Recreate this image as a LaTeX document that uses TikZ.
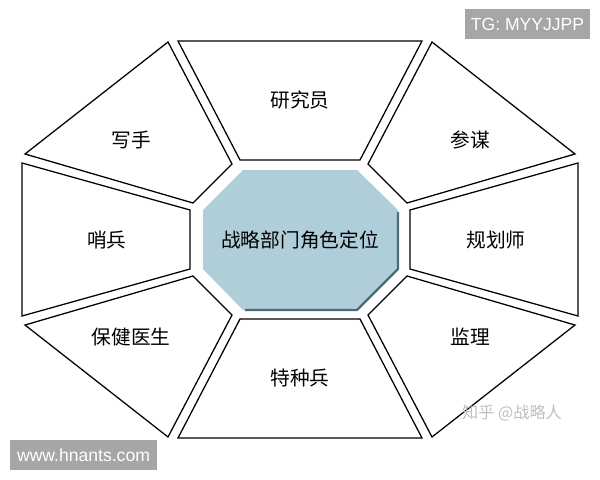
\documentclass[tikz,border=0pt]{standalone}
\usepackage{fontspec}
\setmainfont{Liberation Sans}
\newfontfamily\cjk{Noto Sans CJK SC}
\definecolor{corefill}{RGB}{176,206,218}
\definecolor{coreshade}{RGB}{74,108,120}
\definecolor{markgray}{RGB}{166,166,166}
\tikzset{
	piece/.style={draw=black, line width=0.9pt, fill=white, line join=miter},
	rolelabel/.style={font=\cjk\fontsize{14}{16}\selectfont, text=black},
	markbox/.style={fill=markgray, text=white, inner sep=0pt, font=\fontsize{12.5}{14}\selectfont}
}
\begin{document}
\begin{tikzpicture}[x=0.025cm, y=-0.025cm]
	% page frame
	\useasboundingbox (0,0) rectangle (600,480);
	\fill[white] (0,0) rectangle (600,480);

	% outer pieces, top first, then clockwise
	\draw[piece] (178,41) -- (422,41) -- (360,160) -- (240,160) -- cycle;
	\draw[piece] (432,42) -- (575,154) -- (407,203) -- (368,164) -- cycle;
	\draw[piece] (578,163) -- (410,210) -- (410,269) -- (578,316) -- cycle;
	\draw[piece] (575,325) -- (407,276) -- (368,315) -- (432,437) -- cycle;
	\draw[piece] (240,319) -- (360,319) -- (422,438) -- (178,438) -- cycle;
	\draw[piece] (25,325) -- (193,276) -- (232,315) -- (168,437) -- cycle;
	\draw[piece] (22,163) -- (190,210) -- (190,269) -- (22,316) -- cycle;
	\draw[piece] (168,42) -- (25,154) -- (193,203) -- (232,164) -- cycle;

	% centre octagon with its shadow
	\fill[corefill] (243,170) -- (357,170) -- (398,210) -- (398,269)
			 -- (357,310) -- (243,310) -- (203,269) -- (203,210) -- cycle;
	\draw[coreshade, line width=1.6pt, line join=round]
				 (398,212)
			  -- (398,269)
			  -- (357,310)
			  -- (245,310);

	% labels
	\node[rolelabel] (core) at (300,240) {战略部门角色定位};
	\node[rolelabel] (researcher) at (300,100) {研究员};
	\node[rolelabel] (advisor) at (470,140) {参谋};
	\node[rolelabel] (planner) at (496,240) {规划师};
	\node[rolelabel] (supervisor) at (470,337) {监理};
	\node[rolelabel] (commando) at (300,378) {特种兵};
	\node[rolelabel] (doctor) at (131,337) {保健医生};
	\node[rolelabel] (sentry) at (107,240) {哨兵};
	\node[rolelabel] (writer) at (131,140) {写手};

	% watermarks
	\fill[markgray] (465,9) rectangle (590,39);
	\node[markbox, fill=none] (tg) at (527.5,24.5) {TG: MYYJJPP};
	\fill[markgray] (10,440) rectangle (157,470);
	\node[markbox, fill=none] (site) at (83.5,455) {www.hnants.com};
	\node[font=\cjk\fontsize{11.5}{13}\selectfont, text=black!25] (zhihu) at (512,413) {知乎 @战略人};
\end{tikzpicture}
\end{document}
